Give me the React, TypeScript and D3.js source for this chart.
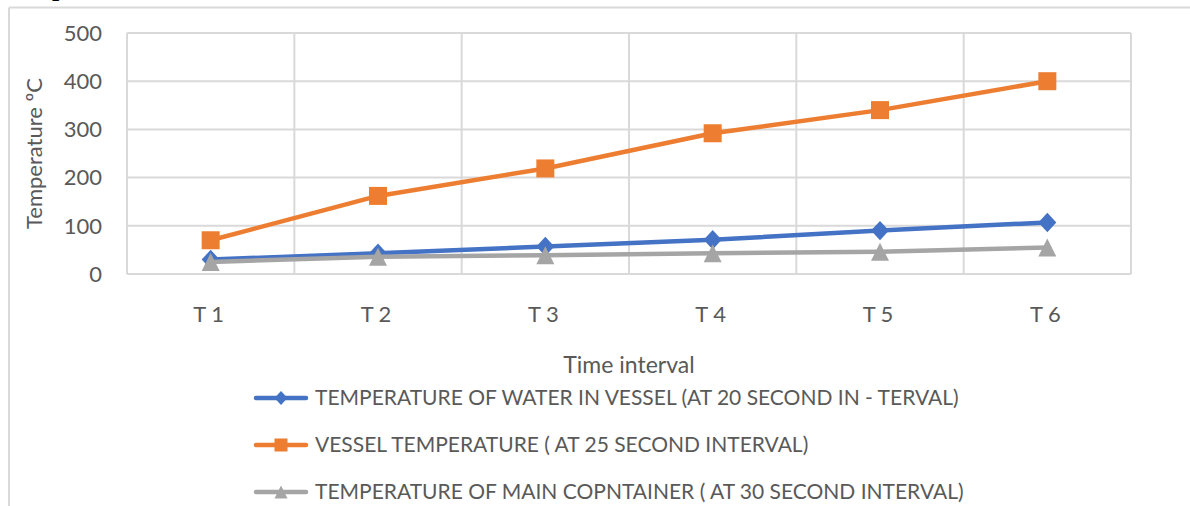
import React from "react";
import * as d3 from "d3";

const categories = ["T 1", "T 2", "T 3", "T 4", "T 5", "T 6"];
const waterTemp = [30, 43, 57, 71, 90, 107];
const vesselTemp = [70, 162, 219, 292, 340, 400];
const containerTemp = [25, 36, 39, 43, 46, 55];
const yTicks = [0, 100, 200, 300, 400, 500];
const seriesNames = [
  "TEMPERATURE OF WATER IN VESSEL (AT 20 SECOND IN - TERVAL)",
  "VESSEL TEMPERATURE ( AT 25 SECOND INTERVAL)",
  "TEMPERATURE OF MAIN COPNTAINER ( AT 30 SECOND INTERVAL)",
];
const seriesColors = ["#4472C4", "#ED7D31", "#A5A5A5"];
const seriesMarkers = ["diamond", "square", "triangle"];

const FONT = "Lato, 'Open Sans', sans-serif";
const TEXT = "#595959";
const GRID = "#D9D9D9";

function markerPath(kind: string, s: number): string {
  const h = s / 2;
  if (kind === "diamond") {
    const hy = h * 1.08;
    return `M0,${-hy}L${h},0L0,${hy}L${-h},0Z`;
  }
  if (kind === "square") return `M${-h},${-h}H${h}V${h}H${-h}Z`;
  return `M0,${-h}L${h},${h}L${-h},${h}Z`;
}

export default function App() {
  const W = 1190;
  const H = 506;
  const left = 127, right = 1131, top = 33, bottom = 274;

  const x = d3.scaleBand<string>().domain(categories).range([left, right]);
  const y = d3.scaleLinear().domain([0, 500]).range([bottom, top]);
  const cx = (c: string) => (x(c) as number) + x.bandwidth() / 2;

  const all = [waterTemp, vesselTemp, containerTemp];
  const line = d3
    .line<number>()
    .x((_, i) => cx(categories[i]))
    .y((d) => y(d));

  const boundaries = categories.map((c) => x(c) as number).concat([right]);

  const legendRows = [398, 445, 492];

  return (
    <svg
      width={W}
      height={H}
      style={{ position: "absolute", left: 0, top: 0, background: "#fff" }}
    >
      {/* fragment of surrounding document text */}
      <text x={52} y={-4} fontFamily="'Liberation Serif', serif" fontWeight="bold" fontSize={26} fill="#000">
        p
      </text>
      {/* outer chart frame */}
      <line x1={9} y1={7.5} x2={W} y2={7.5} stroke={GRID} strokeWidth={2} />
      <line x1={9} y1={7.5} x2={9} y2={H} stroke={GRID} strokeWidth={2} />

      {/* horizontal gridlines */}
      {yTicks.map((t) => (
        <line key={"h" + t} x1={left} x2={right} y1={y(t)} y2={y(t)} stroke={GRID} strokeWidth={2} />
      ))}
      {/* vertical gridlines */}
      {boundaries.map((b, i) => (
        <line key={"v" + i} x1={b} x2={b} y1={top} y2={bottom} stroke={GRID} strokeWidth={2} />
      ))}

      {/* y tick labels */}
      {yTicks.map((t) => (
        <text
          key={"yl" + t}
          x={102}
          y={y(t)}
          dy="0.35em"
          textAnchor="end"
          fontFamily={FONT}
          fontSize={22}
          fill={TEXT}
        >
          {t}
        </text>
      ))}
      {/* x tick labels */}
      {categories.map((c) => (
        <text
          key={"xl" + c}
          x={cx(c) - 2}
          y={322}
          textAnchor="middle"
          fontFamily={FONT}
          fontSize={22}
          fill={TEXT}
        >
          {c}
        </text>
      ))}

      {/* axis titles */}
      <text
        transform={`translate(42,${(top + bottom) / 2}) rotate(-90)`}
        textAnchor="middle"
        fontFamily={FONT}
        fontSize={22}
        fill={TEXT}
      >
        Temperature ºC
      </text>
      <text x={(left + right) / 2} y={373} textAnchor="middle" fontFamily={FONT} fontSize={23} fill={TEXT}>
        Time interval
      </text>

      {/* series */}
      {all.map((vals, si) => (
        <g key={"s" + si}>
          <path
            d={line(vals) as string}
            fill="none"
            stroke={seriesColors[si]}
            strokeWidth={4.5}
            strokeLinejoin="round"
            strokeLinecap="round"
          />
          {vals.map((v, i) => (
            <path
              key={i}
              transform={`translate(${cx(categories[i])},${y(v)})`}
              d={markerPath(seriesMarkers[si], 18)}
              fill={seriesColors[si]}
            />
          ))}
        </g>
      ))}

      {/* legend */}
      {seriesNames.map((name, si) => (
        <g key={"lg" + si}>
          <line
            x1={256}
            x2={306}
            y1={legendRows[si]}
            y2={legendRows[si]}
            stroke={seriesColors[si]}
            strokeWidth={4.5}
            strokeLinecap="round"
          />
          <path
            transform={`translate(281,${legendRows[si]})`}
            d={markerPath(seriesMarkers[si], 13)}
            fill={seriesColors[si]}
          />
          <text
            x={315}
            y={legendRows[si]}
            dy="0.35em"
            fontFamily={FONT}
            fontSize={21}
            fill={TEXT}
          >
            {name}
          </text>
        </g>
      ))}
    </svg>
  );
}
